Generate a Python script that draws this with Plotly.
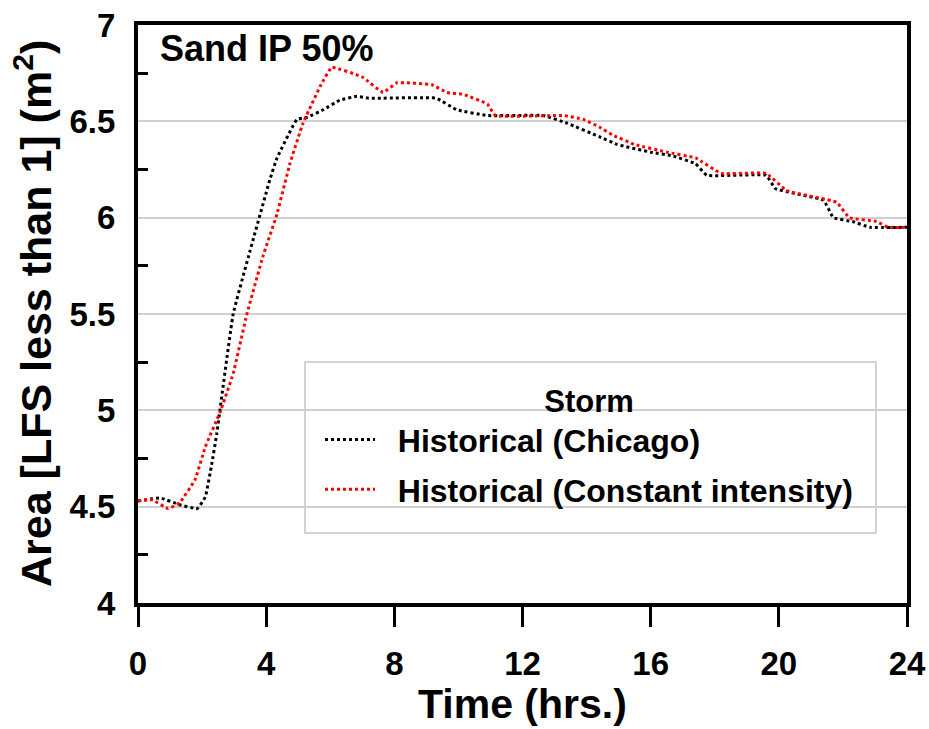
import plotly.graph_objects as go

# ---- data ----
time_chicago = [0, 0.7, 1.3, 1.85, 2.1, 2.3, 2.46, 2.97, 3.5, 4.12, 4.34, 4.96, 5.27, 5.78,
                6.3, 6.83, 7.2, 9.3, 9.95, 10.9, 12.65, 13.4, 14.4, 14.95, 16.0, 16.7, 17.4,
                17.75, 19.6, 19.9, 21.4, 21.7, 22.3, 22.85, 24]
area_chicago = [4.53, 4.545, 4.51, 4.49, 4.55, 4.72, 4.88, 5.50, 5.83, 6.20, 6.31, 6.51, 6.52, 6.56,
                6.61, 6.63, 6.62, 6.62, 6.56, 6.53, 6.53, 6.49, 6.42, 6.38, 6.34, 6.32, 6.28,
                6.22, 6.22, 6.15, 6.09, 6.00, 5.98, 5.95, 5.95]

time_const = [0, 0.45, 0.94, 1.3, 1.78, 2.1, 2.56, 2.97, 3.4, 3.9, 4.34, 4.74, 5.15, 5.68, 6.05,
              7.0, 7.65, 8.08, 9.17, 9.64, 10.15, 10.9, 11.15, 13.3, 13.9, 14.4, 14.8, 15.5,
              16.5, 17.4, 18.2, 19.6, 20.25, 21.8, 22.2, 23.05, 23.4, 24]
area_const = [4.53, 4.535, 4.49, 4.52, 4.64, 4.81, 4.99, 5.19, 5.50, 5.80, 6.02, 6.28, 6.49, 6.68, 6.78,
              6.73, 6.65, 6.70, 6.69, 6.65, 6.64, 6.59, 6.53, 6.53, 6.51, 6.47, 6.43, 6.38,
              6.34, 6.31, 6.23, 6.23, 6.14, 6.08, 6.00, 5.98, 5.95, 5.95]

series_names = ["Historical (Chicago)", "Historical (Constant intensity)"]
x_ticks = [0, 4, 8, 12, 16, 20, 24]
y_ticks = [4, 4.5, 5, 5.5, 6, 6.5, 7]
x_title = "Time (hrs.)"
y_title = "Area [LFS less than 1] (m<sup>2</sup>)"

FONT = "Liberation Sans, Arial, sans-serif"
NB = "\u00a0\u00a0"

fig = go.Figure()
fig.add_trace(go.Scatter(x=time_chicago, y=area_chicago, mode="lines", name=NB + series_names[0],
                         line=dict(color="black", width=3, dash="dot", shape="spline", smoothing=0.3),
                         legendgroup="a"))
fig.add_trace(go.Scatter(x=time_const, y=area_const, mode="lines", name=NB + series_names[1],
                         line=dict(color="red", width=3, dash="dot", shape="spline", smoothing=0.3),
                         legendgroup="b"))

fig.update_layout(
    width=929, height=729,
    margin=dict(l=138, r=22, t=25, b=126, autoexpand=False),
    plot_bgcolor="white", paper_bgcolor="white",
    font=dict(family=FONT, color="black", weight="bold"),
    showlegend=True,
    legend=dict(
        x=(320 - 138) / 769, y=(603 - 372) / 578, xanchor="left", yanchor="top",
        bgcolor="rgba(0,0,0,0)", borderwidth=0,
        font=dict(size=32, family=FONT, color="black", weight="bold"),
        title=dict(text="Storm", side="top center",
                   font=dict(size=31, family=FONT, color="black", weight="bold")),
        tracegroupgap=5, itemwidth=50,
    ),
    shapes=[dict(type="rect", xref="paper", yref="paper",
                 x0=(305 - 138) / 769, x1=(876 - 138) / 769,
                 y0=(603 - 533) / 578, y1=(603 - 362) / 578,
                 line=dict(color="#c4c4c4", width=1.5), fillcolor="white", layer="below")],
    annotations=[
        dict(text="Sand IP 50%", x=0.026, y=0.96, xref="paper", yref="paper",
             xanchor="left", yanchor="middle", showarrow=False,
             font=dict(size=36, family=FONT, color="black", weight="bold")),
        dict(text=x_title, x=0.5, y=(603 - 704) / 578, xref="paper", yref="paper",
             xanchor="center", yanchor="middle", showarrow=False,
             font=dict(size=41, family=FONT, color="black", weight="bold")),
        dict(text=y_title, x=(33 - 138) / 769, y=0.5, xref="paper", yref="paper",
             xanchor="center", yanchor="middle", showarrow=False, textangle=-90,
             font=dict(size=43, family=FONT, color="black", weight="bold")),
    ],
)

fig.update_xaxes(
    range=[0, 24], tickvals=x_ticks, ticktext=[str(v) for v in x_ticks],
    showgrid=False, zeroline=False, automargin=False,
    showline=True, linecolor="black", linewidth=4, mirror=True,
    ticks="outside", ticklen=20, tickwidth=3, tickcolor="black",
    ticklabelstandoff=8,
    tickfont=dict(size=33, family=FONT, color="black", weight="bold"),
)
fig.update_yaxes(
    range=[4, 7], tickvals=y_ticks, ticktext=[f"{v:g}" for v in y_ticks],
    showgrid=True, gridcolor="#d0d0d0", gridwidth=1.5, zeroline=False, automargin=False,
    showline=True, linecolor="black", linewidth=4, mirror=True,
    ticks="", ticklabelstandoff=12,
    minor=dict(ticks="inside", tick0=4.25, dtick=0.5, ticklen=10, tickwidth=3,
               tickcolor="black", showgrid=False),
    tickfont=dict(size=33, family=FONT, color="black", weight="bold"),
)

fig.write_html("out.html")
